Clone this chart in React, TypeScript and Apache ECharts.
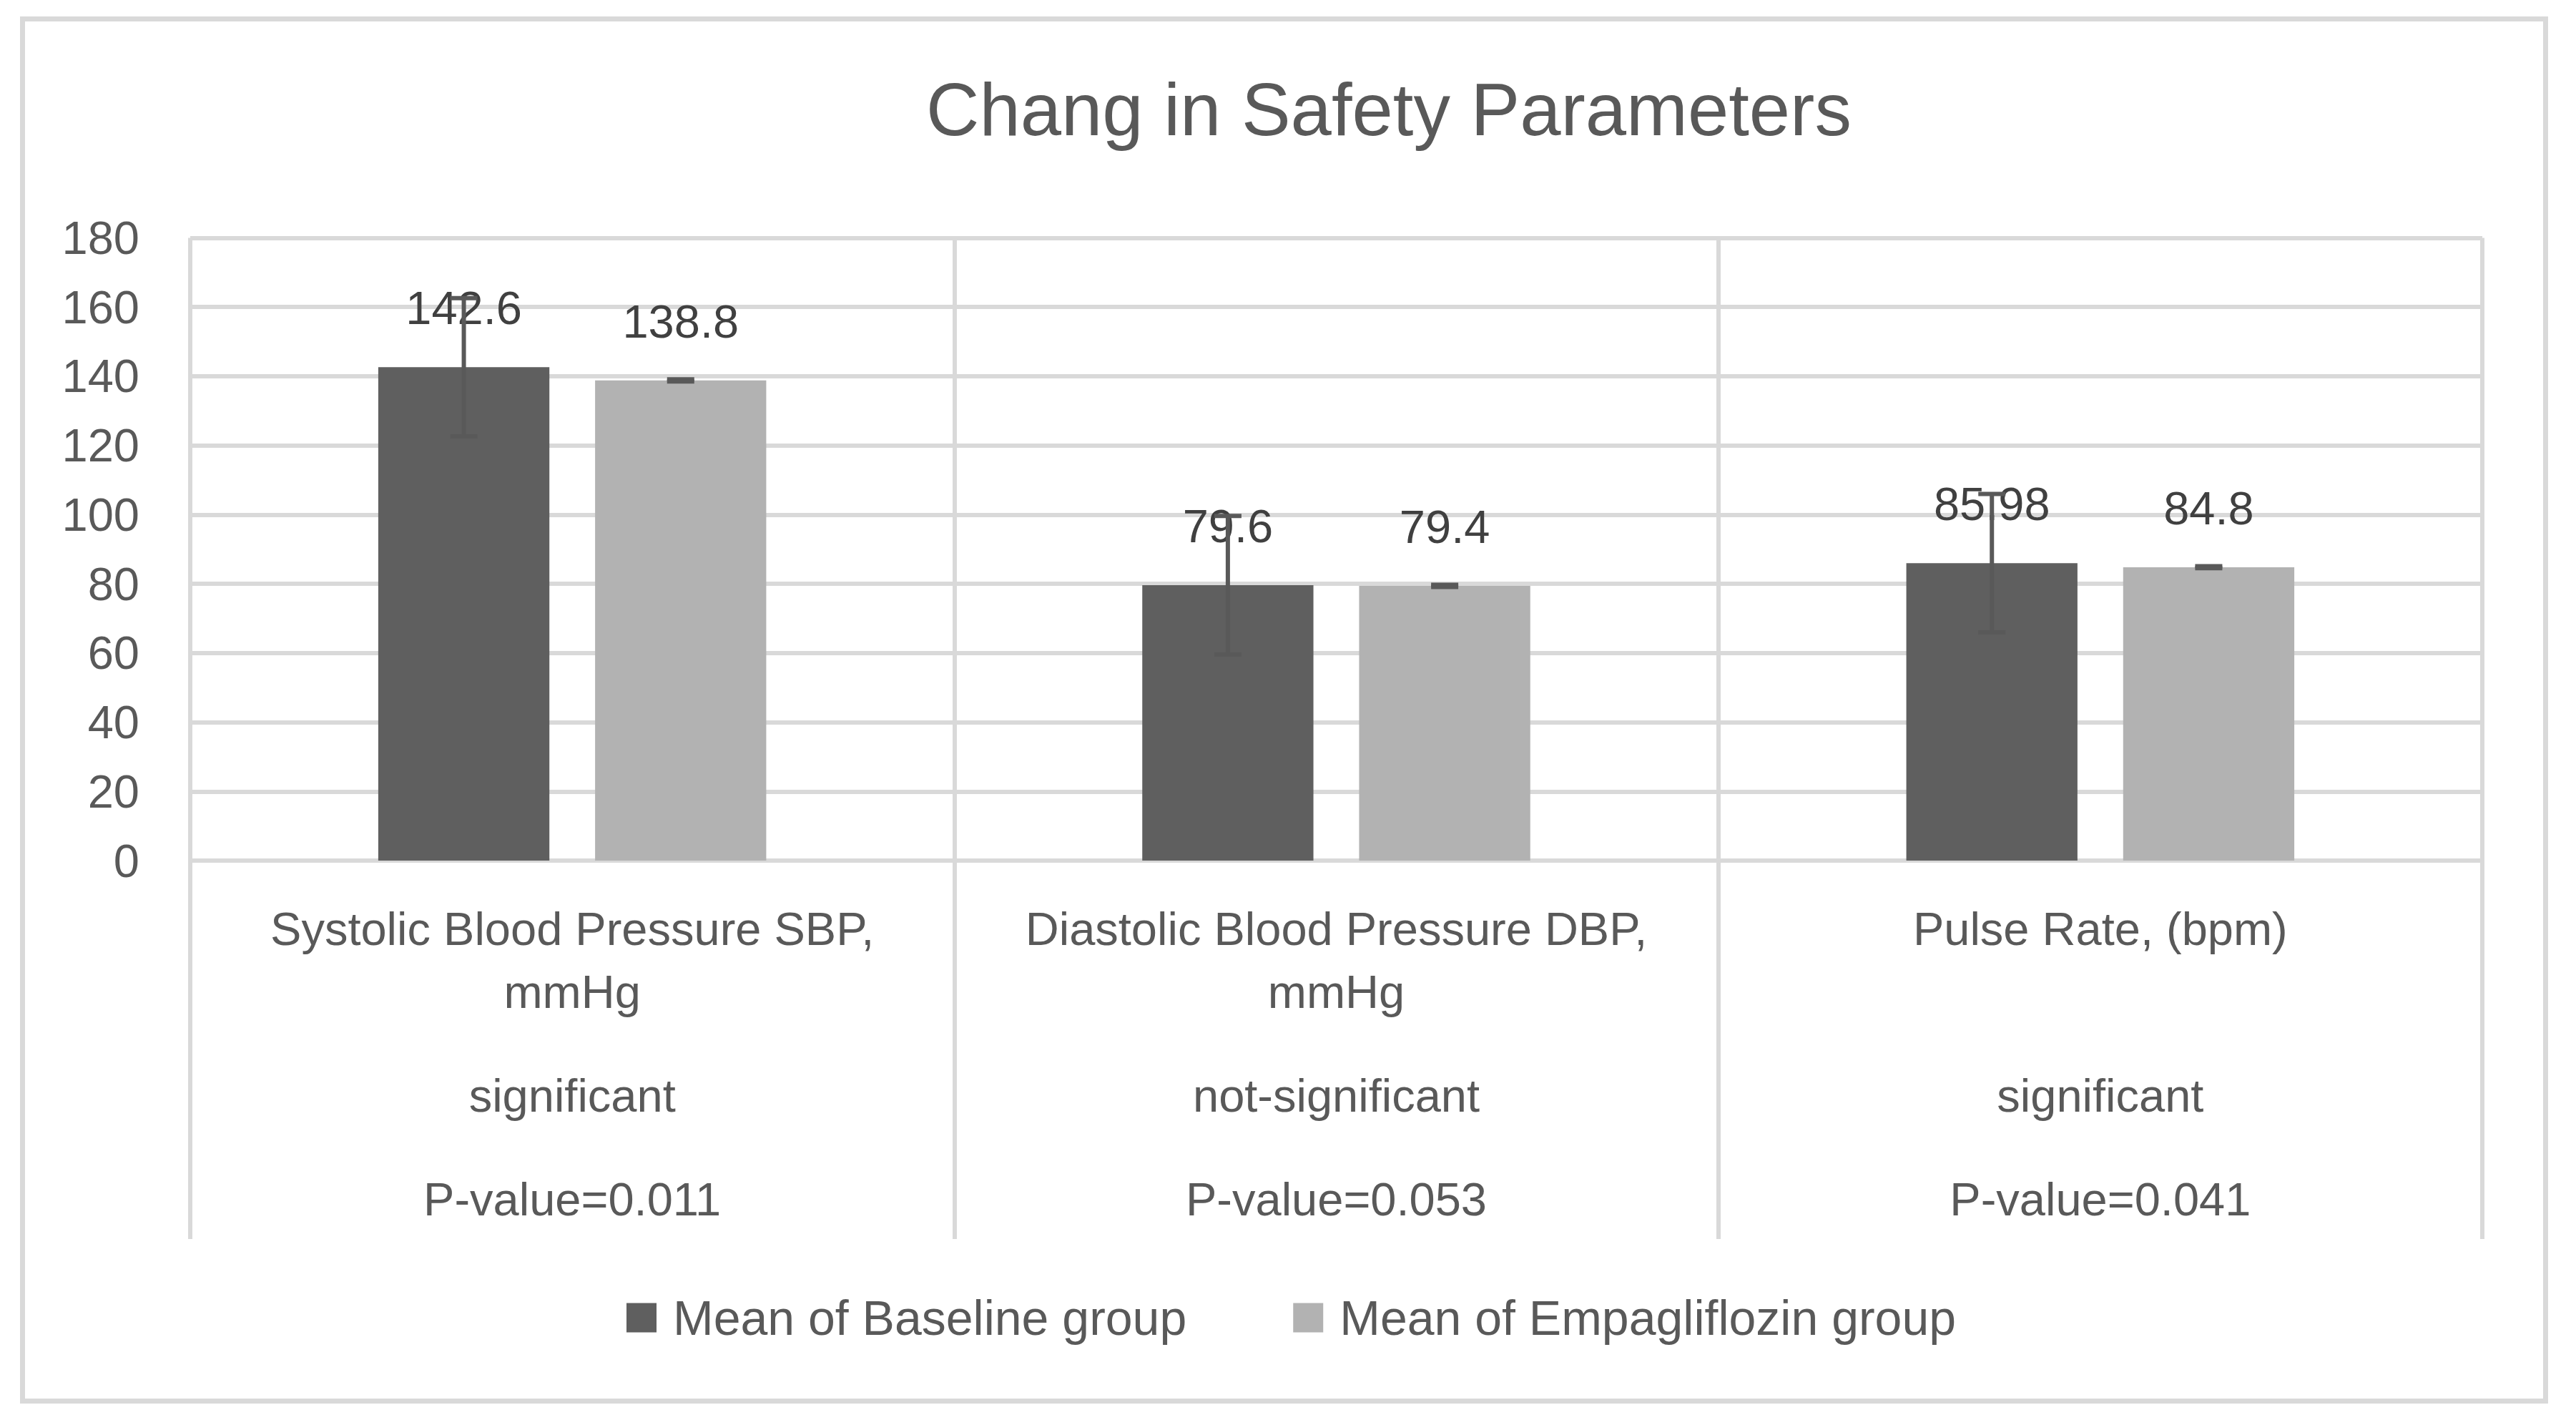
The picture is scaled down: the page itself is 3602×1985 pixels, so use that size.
import React, { useEffect, useRef } from "react";
import * as echarts from "echarts";

const TITLE = "Chang in Safety Parameters";
const CATEGORIES = [
  "Systolic Blood Pressure SBP,\nmmHg",
  "Diastolic Blood Pressure DBP,\nmmHg",
  "Pulse Rate, (bpm)",
];
const SIGNIFICANCE = ["significant", "not-significant", "significant"];
const P_VALUES = ["P-value=0.011", "P-value=0.053", "P-value=0.041"];
const SERIES_NAMES = ["Mean of Baseline group", "Mean of Empagliflozin group"];
const BASELINE_MEANS = [142.6, 79.6, 85.98];
const EMPA_MEANS = [138.8, 79.4, 84.8];
const BASELINE_ERR = [20, 20, 20];
const EMPA_ERR = [0.3, 0.3, 0.3];
const Y_TICKS = { min: 0, max: 180, interval: 20 };

const FONT = "'Liberation Sans', Arial, sans-serif";
const BAR_COLORS = ["#5f5f5f", "#b2b2b2"];
const GRID_COLOR = "#d9d9d9";
const TEXT_COLOR = "#595959";
const BAR_W = 0.224;
const BAR_GAP = 0.267;

function errorSeries(means: number[], errs: number[], side: number) {
  return {
    type: "custom",
    z: 5,
    silent: true,
    data: means.map((m, i) => [i, m, errs[i]]),
    encode: { x: 0, y: 1 },
    renderItem: (params: any, api: any) => {
      const idx = api.value(0);
      const mean = api.value(1);
      const err = api.value(2);
      const band = api.size([1, 0])[0];
      const offset = side * band * (BAR_W / 2 + (BAR_W * BAR_GAP) / 2);
      const top = api.coord([idx, mean + err]);
      const bot = api.coord([idx, mean - err]);
      const x = top[0] + offset;
      const cap = 19;
      const style = { stroke: "#595959", lineWidth: 6 };
      return {
        type: "group",
        children: [
          { type: "line", shape: { x1: x, y1: top[1], x2: x, y2: bot[1] }, style },
          { type: "line", shape: { x1: x - cap, y1: top[1], x2: x + cap, y2: top[1] }, style },
          { type: "line", shape: { x1: x - cap, y1: bot[1], x2: x + cap, y2: bot[1] }, style },
        ],
      };
    },
  };
}

export default function App() {
  const ref = useRef<HTMLDivElement>(null);
  useEffect(() => {
    if (!ref.current) return;
    const chart = echarts.init(ref.current, undefined, { renderer: "svg" });
    const barLabel = {
      show: true,
      position: "top",
      distance: 50,
      fontSize: 65,
      fontFamily: FONT,
      color: "#404040",
    };
    chart.setOption({
      animation: false,
      backgroundColor: "#ffffff",
      textStyle: { fontFamily: FONT },
      title: {
        text: TITLE,
        left: 1295,
        top: 102,
        padding: 0,
        textStyle: { fontSize: 103, fontWeight: "normal", color: TEXT_COLOR, fontFamily: FONT, lineHeight: 103 },
      },
      graphic: [
        {
          type: "rect",
          shape: { x: 31.5, y: 26.5, width: 3528, height: 1932 },
          style: { fill: "none", stroke: GRID_COLOR, lineWidth: 7 },
          silent: true,
        },
      ],
      legend: {
        left: 871,
        top: 1803,
        itemWidth: 42,
        itemHeight: 41,
        itemGap: 149,
        icon: "rect",
        data: SERIES_NAMES,
        textStyle: { fontSize: 68, color: TEXT_COLOR, fontFamily: FONT, padding: [0, 0, 0, 18], lineHeight: 41 },
      },
      grid: { left: 266, right: 131, top: 332.5, bottom: 782, containLabel: false },
      xAxis: {
        type: "category",
        data: CATEGORIES,
        axisLine: { show: true, lineStyle: { color: GRID_COLOR, width: 6 } },
        axisTick: { show: true, interval: 0, length: 529, lineStyle: { color: GRID_COLOR, width: 6 } },
        splitLine: { show: true, interval: 0, lineStyle: { color: GRID_COLOR, width: 6 } },
        axisLabel: {
          interval: 0,
          margin: 51,
          formatter: (value: string, idx: number) => {
            const lines = value.split("\n");
            while (lines.length < 2) lines.push(" ");
            return [
              ...lines.map((l) => `{a|${l}}`),
              "{s| }",
              `{a|${SIGNIFICANCE[idx]}}`,
              "{s| }",
              `{a|${P_VALUES[idx]}}`,
            ].join("\n");
          },
          rich: {
            a: { fontSize: 65, lineHeight: 88, color: TEXT_COLOR, fontFamily: FONT },
            s: { fontSize: 10, lineHeight: 57, color: TEXT_COLOR, fontFamily: FONT },
          },
        },
      },
      yAxis: {
        type: "value",
        min: Y_TICKS.min,
        max: Y_TICKS.max,
        interval: Y_TICKS.interval,
        axisLine: { show: false },
        axisTick: { show: false },
        splitLine: { show: true, lineStyle: { color: GRID_COLOR, width: 6 } },
        axisLabel: { fontSize: 65, color: TEXT_COLOR, fontFamily: FONT, margin: 71 },
      },
      series: [
        {
          name: SERIES_NAMES[0],
          type: "bar",
          data: BASELINE_MEANS,
          barWidth: `${BAR_W * 100}%`,
          barGap: `${BAR_GAP * 100}%`,
          itemStyle: { color: BAR_COLORS[0] },
          label: barLabel,
        },
        {
          name: SERIES_NAMES[1],
          type: "bar",
          data: EMPA_MEANS,
          barWidth: `${BAR_W * 100}%`,
          barGap: `${BAR_GAP * 100}%`,
          itemStyle: { color: BAR_COLORS[1] },
          label: barLabel,
        },
        errorSeries(BASELINE_MEANS, BASELINE_ERR, -1),
        errorSeries(EMPA_MEANS, EMPA_ERR, 1),
      ],
    });
    return () => chart.dispose();
  }, []);
  return (
    <div
      ref={ref}
      style={{ position: "fixed", left: 0, top: 0, width: "3602px", height: "1985px", background: "#fff" }}
    />
  );
}
